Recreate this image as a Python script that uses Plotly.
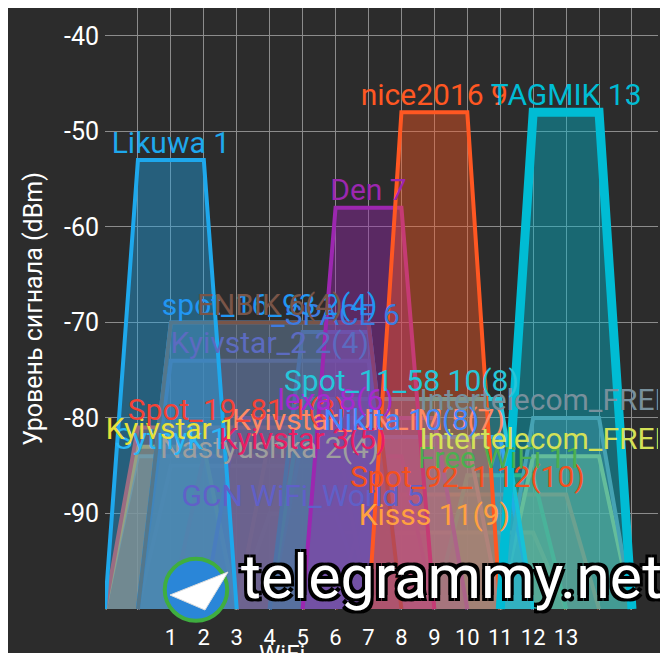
import plotly.graph_objects as go

# networks: label, center channel, bandwidth (MHz), level (dBm)
labels = [
    "Kisss 11(9)", "GCN WiFi_World 5", "Spot_92_1 12(10)", "Free WiFi 11",
    "Nastyushka 2(4)", "Kyivstar_UNLIM 5(7)", "Sytnyk 1", "Kyivstar 3(5)",
    "Intertelecom_FREE 13", "Kyivstar 1", "Spot_19_81 1(3)", "Nikita 10(8)",
    "lexa 8(6)", "Intertelecom_FREE 13", "Spot_11_58 10(8)", "Kyivstar_2 2(4)",
    "_SPACE 6", "spot_16_93 2(4)", "ENBIK 6(4)", "Den 7", "Likuwa 1",
    "nice2016 9", "TAGMIK 13",
]
centers = [9, 5, 10, 11, 4, 7, 1, 5, 13, 1, 3, 8, 6, 13, 8, 4, 6, 4, 4, 7, 1, 9, 13]
bandwidth = [40, 20, 40, 20, 40, 40, 20, 40, 20, 20, 40, 40, 40, 20, 40, 40, 20, 40, 40, 20, 20, 20, 20]
levels = [-92, -90, -88, -86, -85, -82, -84, -84, -84, -83, -81, -82,
          -80, -80, -78, -74, -71, -70, -70, -58, -53, -48, -48]

colors = [
    "#ffa040", "#6060c8", "#f4511e", "#4caf50", "#9e9e9e", "#ff8a65",
    "#29b6f6", "#e91e63", "#d4e157", "#e8e03a", "#f44336", "#448aff",
    "#a52ad0", "#78909c", "#26c6da", "#5c6bc0", "#3d7be0", "#2196f3",
    "#795548", "#9c27b0", "#1ea8ec", "#ff5722", "#00bcd4",
]

selected = "TAGMIK 13"
FLOOR = -100

tick_channels = list(range(-1, 16))
tick_text = [str(c) if 1 <= c <= 13 else "" for c in tick_channels]
level_ticks = [-90, -80, -70, -60, -50, -40]
level_text = ["-90", "-80", "-70", "-60", "-50", "-40"]


def rgba(hex_color, a):
    h = hex_color.lstrip("#")
    r, g, b = int(h[0:2], 16), int(h[2:4], 16), int(h[4:6], 16)
    return f"rgba({r},{g},{b},{a})"


fig = go.Figure()

# trapezoids
for name, c, bw, lvl, col in zip(labels, centers, bandwidth, levels, colors):
    half = 2 if bw == 20 else 4
    fig.add_trace(go.Scatter(
        x=[c - half, c - half + 1, c + half - 1, c + half],
        y=[FLOOR, lvl, lvl, FLOOR],
        mode="lines",
        fill="toself",
        fillcolor=rgba(col, 0.42),
        line=dict(color=col, width=9 if name == selected else 4),
        hoverinfo="skip",
    ))

# network names above each top
for name, c, lvl, col in zip(labels, centers, levels, colors):
    fig.add_trace(go.Scatter(
        x=[c], y=[lvl],
        mode="text",
        text=[name],
        textposition="top center",
        textfont=dict(family="Roboto", size=30, color=col),
        cliponaxis=True,
        hoverinfo="skip",
    ))

# watermark
fig.add_shape(
    type="circle", xref="paper", yref="paper",
    x0=0.108, x1=0.221, y0=-0.018, y1=0.085,
    fillcolor="#2a86d8", line=dict(color="#3fae3f", width=4),
)
fig.add_shape(
    type="path", xref="paper", yref="paper",
    path="M 0.1175 0.0249 L 0.2224 0.0631 L 0.1808 0.0 Z",
    fillcolor="white", line=dict(color="#dddddd", width=1),
)
fig.add_annotation(
    x=0.626, y=-0.008, xref="paper", yref="paper",
    text="telegrammy.net", showarrow=False,
    font=dict(family="Roboto", size=61, color="white",
              shadow="3px 3px 0 #000, -3px -3px 0 #000, 3px -3px 0 #000, -3px 3px 0 #000"),
)

# x axis title, partly below the visible window as in the screenshot
fig.add_annotation(
    x=0.32, y=-0.047, xref="paper", yref="paper",
    xanchor="center", yanchor="top",
    text="WiFi", showarrow=False,
    font=dict(family="Roboto", size=24, color="white"),
)

fig.update_layout(
    width=660, height=645,
    margin=dict(l=97, r=10, t=0, b=43),
    paper_bgcolor="#2c2c2c",
    plot_bgcolor="#2c2c2c",
    showlegend=False,
    font=dict(family="Roboto", color="white"),
    xaxis=dict(
        range=[-1, 15.79],
        tickvals=tick_channels, ticktext=tick_text,
        showgrid=True, gridcolor="#8c8c8c", gridwidth=1,
        zeroline=False, showline=False,
        tickfont=dict(size=22, color="white"),
        ticklabelstandoff=12,
        automargin=False,
    ),
    yaxis=dict(
        range=[-100.1, -37.08],
        tickvals=level_ticks, ticktext=level_text,
        showgrid=True, gridcolor="#8c8c8c", gridwidth=1,
        zeroline=False, showline=False,
        tickfont=dict(size=25, color="white"),
        ticklabelstandoff=5,
        title=dict(text="Уровень сигнала (dBm)", font=dict(size=25, color="white"), standoff=14),
        automargin=False,
    ),
)

fig.write_html("out.html")
